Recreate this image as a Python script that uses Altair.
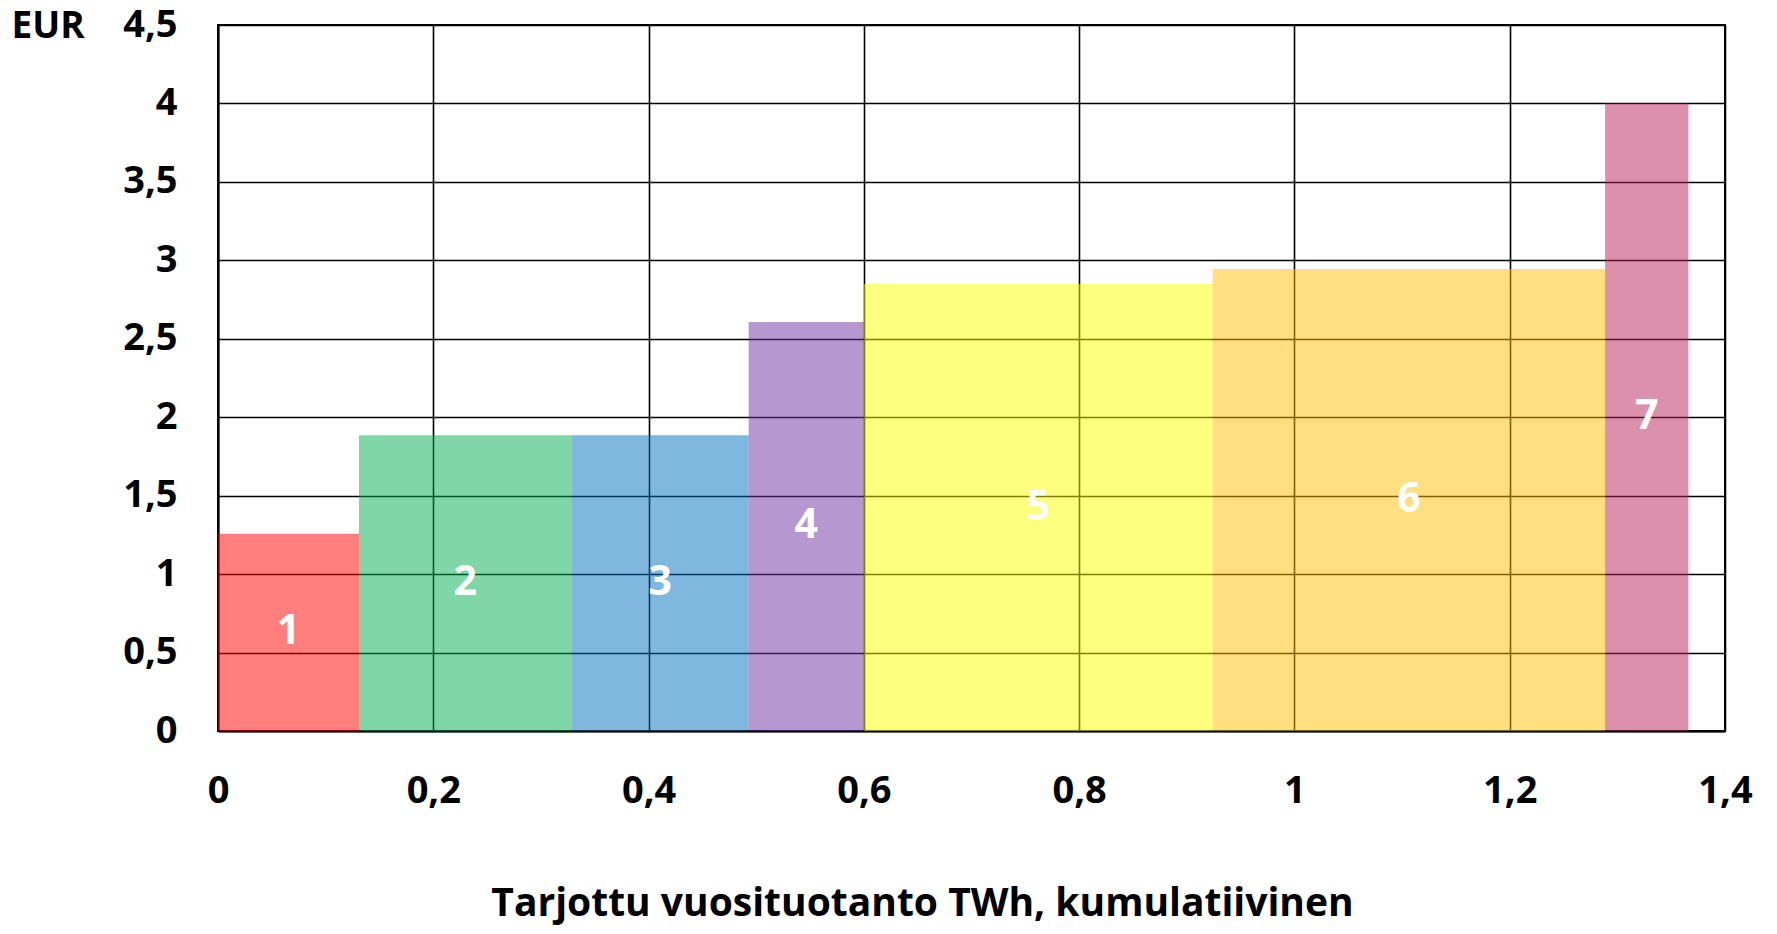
import altair as alt
import pandas as pd

labels = ["1", "2", "3", "4", "5", "6", "7"]
x_start = [0.0, 0.131, 0.3285, 0.493, 0.6, 0.924, 1.2886]
x_end = [0.131, 0.3285, 0.493, 0.6, 0.924, 1.2886, 1.366]
price = [1.257, 1.885, 1.885, 2.607, 2.849, 2.945, 4.0]
colors = ["#FF0000", "#00B050", "#0070C0", "#7030A0", "#FFFF00", "#FFC000", "#BB225A"]
x_ticks = [0, 0.2, 0.4, 0.6, 0.8, 1, 1.2, 1.4]
y_ticks = [0, 0.5, 1, 1.5, 2, 2.5, 3, 3.5, 4, 4.5]

df = pd.DataFrame({"label": labels, "x0": x_start, "x1": x_end, "price": price, "color": colors})

FONT = "Open Sans"

x_enc = alt.X(
    "x0:Q",
    scale=alt.Scale(domain=[0, 1.4], nice=False, zero=True),
    axis=alt.Axis(
        values=x_ticks,
        labelExpr="replace(toString(datum.value), '.', ',')",
        title="Tarjottu vuosituotanto TWh, kumulatiivinen",
        titleX=704, titleY=184, titleAlign="center", titleBaseline="alphabetic",
        titleFontSize=39, titleFont=FONT, titleFontWeight="bold", titleColor="black",
        labelFontSize=38, labelFont=FONT, labelFontWeight="bold", labelColor="black",
        labelPadding=60, labelBaseline="middle", ticks=False, labelOverlap=False,
        labelFlush=False,
        grid=True, gridColor="black", gridWidth=1.6, gridOpacity=1,
        domain=True, domainColor="black", domainWidth=2,
    ),
)
y_enc = alt.Y(
    "price:Q",
    scale=alt.Scale(domain=[0, 4.5], nice=False),
    axis=alt.Axis(
        values=y_ticks,
        labelExpr="replace(toString(datum.value), '.', ',')",
        title="EUR",
        titleAngle=0, titleX=-207, titleY=1, titleAlign="left", titleBaseline="middle",
        titleFontSize=37, titleFont=FONT, titleFontWeight="bold", titleColor="black",
        labelFontSize=38, labelFont=FONT, labelFontWeight="bold", labelColor="black",
        labelPadding=41, ticks=False, labelOverlap=False, labelFlush=False,
        grid=True, gridColor="black", gridWidth=1.6, gridOpacity=1,
        domain=True, domainColor="black", domainWidth=2,
    ),
)

bars = alt.Chart(df).mark_rect(opacity=0.5).encode(
    x=x_enc,
    x2="x1:Q",
    y=y_enc,
    y2=alt.datum(0),
    color=alt.Color("color:N", scale=None, legend=None),
)

text = alt.Chart(df).transform_calculate(
    xm="(datum.x0 + datum.x1) / 2", ym="datum.price / 2"
).mark_text(
    color="white", font=FONT, fontWeight="bold", fontSize=41, baseline="middle", align="center"
).encode(
    x=alt.X("xm:Q"),
    y=alt.Y("ym:Q"),
    text="label:N",
)

chart = alt.layer(bars, text).properties(
    width=1507, height=706,
    autosize=alt.AutoSizeParams(type="none"),
    padding={"left": 210, "top": 17, "right": 40, "bottom": 195},
    background="white",
).configure_view(stroke="black", strokeWidth=2)

chart.save("out.html", embed_options={"renderer": "svg", "actions": False})
